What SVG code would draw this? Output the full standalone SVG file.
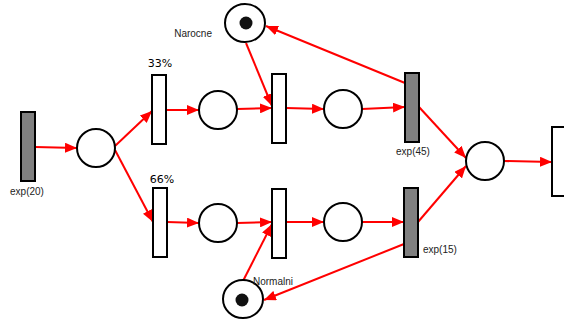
<svg xmlns="http://www.w3.org/2000/svg" width="564" height="322" viewBox="0 0 564 322">
<defs>
<marker id="ah" markerWidth="12" markerHeight="10" refX="12" refY="5" orient="auto" markerUnits="userSpaceOnUse">
<path d="M0,0 L12,5 L0,10 Z" fill="#ff0000"/>
</marker>
</defs>
<style>
.arc{stroke:#ff0000;stroke-width:2;fill:none;marker-end:url(#ah)}
.pl{fill:#fff;stroke:#000;stroke-width:2}
.tw{fill:#fff;stroke:#000;stroke-width:2}
.tg{fill:#808080;stroke:#000;stroke-width:2}
.tok{fill:#111}
.lbl{font-family:"Liberation Sans",Arial,sans-serif;font-size:10px;fill:#222}
.pct{font-family:"DejaVu Sans",sans-serif;font-size:11px;fill:#000}
</style>
<rect width="564" height="322" fill="#fff"/>
<g id="connectors">
<line class="arc" x1="35" y1="147" x2="77" y2="148"/>
<line class="arc" x1="115" y1="146" x2="152" y2="111"/>
<line class="arc" x1="115" y1="150" x2="153" y2="222"/>
<line class="arc" x1="166" y1="110" x2="199" y2="110"/>
<line class="arc" x1="237" y1="109" x2="272" y2="108"/>
<line class="arc" x1="246" y1="43" x2="272" y2="106"/>
<line class="arc" x1="286" y1="108" x2="324" y2="109"/>
<line class="arc" x1="362" y1="109" x2="405" y2="107"/>
<line class="arc" x1="405" y1="83" x2="266" y2="26"/>
<line class="arc" x1="419" y1="107" x2="466" y2="158"/>
<line class="arc" x1="167" y1="222" x2="199" y2="223"/>
<line class="arc" x1="237" y1="223" x2="272" y2="222"/>
<line class="arc" x1="243" y1="281" x2="272" y2="224"/>
<line class="arc" x1="286" y1="222" x2="324" y2="222"/>
<line class="arc" x1="362" y1="222" x2="404" y2="222"/>
<line class="arc" x1="418" y1="222" x2="466" y2="166"/>
<line class="arc" x1="404" y1="244" x2="264" y2="300"/>
<line class="arc" x1="504" y1="161" x2="552" y2="162"/>
</g>
<g id="t_exp20"><rect class="tg" x="21" y="112" width="14" height="69"/><text class="lbl" x="27" y="195" text-anchor="middle">exp(20)</text></g>
<g id="p1"><circle class="pl" cx="96" cy="148" r="19"/></g>
<g id="t33"><rect class="tw" x="152" y="75" width="14" height="69"/><text class="pct" x="160" y="67" text-anchor="middle">33%</text></g>
<g id="t66"><rect class="tw" x="153" y="188" width="14" height="69"/><text class="pct" x="162" y="183" text-anchor="middle">66%</text></g>
<g id="p_top1"><circle class="pl" cx="218" cy="110" r="19"/></g>
<g id="p_bot1"><circle class="pl" cx="218" cy="223" r="19"/></g>
<g id="t_top2"><rect class="tw" x="272" y="74" width="14" height="69"/></g>
<g id="t_bot2"><rect class="tw" x="272" y="189" width="14" height="69"/></g>
<g id="p_top3"><circle class="pl" cx="343" cy="109" r="19"/></g>
<g id="p_bot3"><circle class="pl" cx="343" cy="222" r="19"/></g>
<g id="t_exp45"><rect class="tg" x="405" y="73" width="14" height="69"/><text class="lbl" x="413" y="155" text-anchor="middle">exp(45)</text></g>
<g id="t_exp15"><rect class="tg" x="404" y="188" width="14" height="69"/><text class="lbl" x="423" y="253">exp(15)</text></g>
<g id="p_right"><circle class="pl" cx="485" cy="161" r="19"/></g>
<g id="t_right"><rect class="tw" x="552" y="127" width="20" height="69"/></g>
<g id="p_narocne"><ellipse class="pl" cx="245" cy="23" rx="20" ry="19"/><circle class="tok" cx="246" cy="23" r="6.5"/><text class="lbl" x="212" y="37" text-anchor="end">Narocne</text></g>
<g id="p_normalni"><ellipse class="pl" cx="243" cy="299" rx="20" ry="19"/><circle class="tok" cx="242" cy="300" r="6.5"/><text class="lbl" x="253" y="285">Normalni</text></g>
</svg>
